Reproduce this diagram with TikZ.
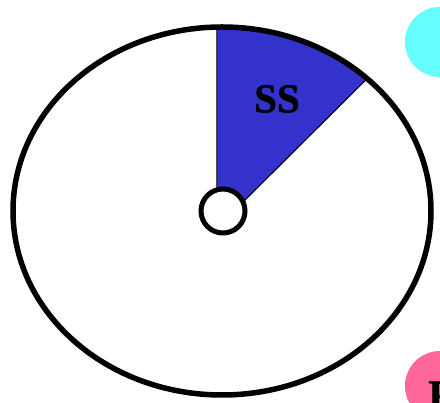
\documentclass[tikz,border=0pt]{standalone}
\usepackage{fontspec}
\setmainfont{Liberation Serif}[BoldFont={Liberation Serif Bold},BoldFeatures={FakeBold=1.2}]
\usepackage{tikz}
\usetikzlibrary{calc}
\definecolor{sliceBlue}{RGB}{51,51,204}
\definecolor{softCyan}{RGB}{102,255,255}
\definecolor{softPink}{RGB}{255,102,153}

\begin{document}
\begin{tikzpicture}[x=1pt,y=1pt,every node/.style={align=center,font=\bfseries\fontsize{41}{41}\selectfont}]
\useasboundingbox (0,0) rectangle (440,403);
\fill[white] (0,0) rectangle (440,403);
\coordinate (o) at (222,192);
% slice
\filldraw[fill=sliceBlue,draw=black,line width=1] (217,175) -- ($(o)+(91.4:209 and 184)$) arc[start angle=91.4,end angle=46,x radius=209,y radius=184] -- cycle;
\draw[line width=5.5] (o) ellipse[x radius=209,y radius=184];
\node[circle,draw,fill=white,line width=5,minimum size=44,inner sep=0] (hub) at (223,192) {};
\node (ss) at (277,304) {SS};
% legend
\node[circle,fill=softCyan,minimum size=70,inner sep=0] (cy) at (440,361) {};
\node[circle,fill=softPink,minimum size=70,inner sep=0] (pk) at (440,17) {};
\node (pkl) at (441,8) {P};
\end{tikzpicture}
\end{document}
